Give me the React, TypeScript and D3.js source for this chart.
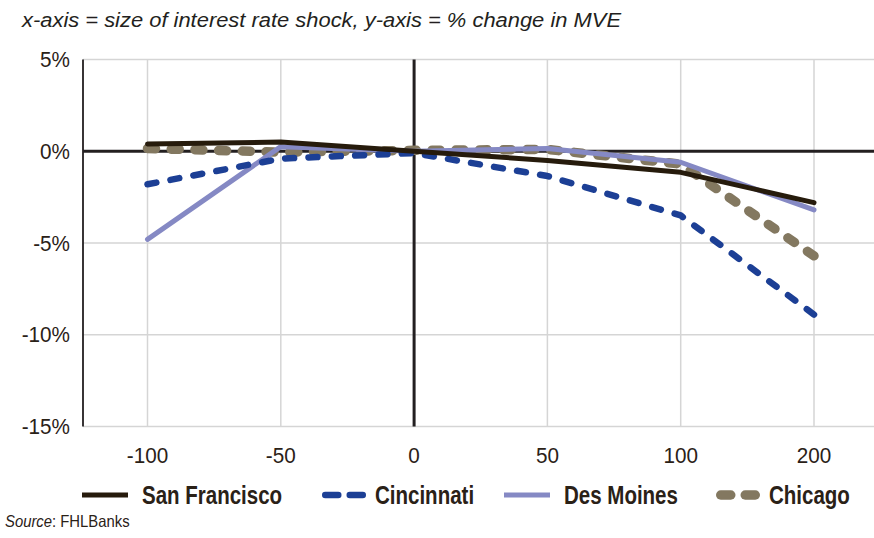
import { useEffect, useRef } from "react"
import * as d3 from "d3"

const categories = ["-100", "-50", "0", "50", "100", "200"]
const sanFrancisco = [0.4, 0.5, 0.0, -0.5, -1.15, -2.8]
const cincinnati = [-1.8, -0.4, -0.1, -1.35, -3.5, -8.9]
const desMoines = [-4.8, 0.25, 0.0, 0.15, -0.6, -3.2]
const chicago = [0.15, -0.05, 0.05, 0.1, -0.7, -5.7]
const yTicks = [5, 0, -5, -10, -15]

const W = 874
const H = 538
const ink = "#2a2117"

type Series = { name: string; values: number[]; color: string; width: number; dash: [number, number] | null }

const sf: Series = { name: "San Francisco", values: sanFrancisco, color: "#261b0c", width: 5, dash: null }
const cin: Series = { name: "Cincinnati", values: cincinnati, color: "#1c3f95", width: 6.5, dash: [9, 14.5] }
const dm: Series = { name: "Des Moines", values: desMoines, color: "#8589c4", width: 5, dash: null }
const chi: Series = { name: "Chicago", values: chicago, color: "#837860", width: 9.5, dash: [8, 16] }

// drawing order (bottom to top) and legend order
const drawOrder = [chi, dm, cin, sf]
const legendOrder = [sf, cin, dm, chi]
const legendX = [82, 322, 504, 716]

function squeeze(sel: d3.Selection<SVGTextElement, any, any, any>, f: number) {
  sel.each(function () {
    const w = this.getComputedTextLength()
    d3.select(this).attr("textLength", w * f).attr("lengthAdjust", "spacingAndGlyphs")
  })
}

export default function App() {
  const ref = useRef<SVGSVGElement>(null)

  useEffect(() => {
    document.body.style.margin = "0"
    const svg = d3.select(ref.current)
    svg.selectAll("*").remove()

    const left = 83
    const right = W
    const x = d3.scalePoint<string>().domain(categories).range([147.5, 814])
    const y = d3.scaleLinear().domain([-15, 5]).range([426.5, 59.5])

    // title
    const title = svg
      .append("text")
      .attr("x", 22)
      .attr("y", 27)
      .attr("font-family", "Liberation Sans, Arial, sans-serif")
      .attr("font-style", "italic")
      .attr("font-size", 20)
      .attr("fill", "#231f20")
      .text("x-axis = size of interest rate shock, y-axis = % change in MVE")
    squeeze(title, 599 / (title.node() as SVGTextElement).getComputedTextLength())

    // horizontal gridlines
    svg
      .append("g")
      .selectAll("line")
      .data(yTicks.filter((d) => d !== 0))
      .enter()
      .append("line")
      .attr("x1", left)
      .attr("x2", right)
      .attr("y1", (d) => y(d))
      .attr("y2", (d) => y(d))
      .attr("stroke", "#d5d5d5")
      .attr("stroke-width", 1.5)

    // vertical gridlines
    svg
      .append("g")
      .selectAll("line")
      .data(categories.filter((c) => c !== "0"))
      .enter()
      .append("line")
      .attr("x1", (d) => x(d)!)
      .attr("x2", (d) => x(d)!)
      .attr("y1", y(5))
      .attr("y2", y(-15))
      .attr("stroke", "#d5d5d5")
      .attr("stroke-width", 1.5)

    // axes
    svg
      .append("line")
      .attr("x1", left)
      .attr("x2", left)
      .attr("y1", y(5))
      .attr("y2", y(-15))
      .attr("stroke", "#231f20")
      .attr("stroke-width", 1.8)
    svg
      .append("line")
      .attr("x1", left)
      .attr("x2", right)
      .attr("y1", y(0))
      .attr("y2", y(0))
      .attr("stroke", "#231f20")
      .attr("stroke-width", 3)
    svg
      .append("line")
      .attr("x1", x("0")!)
      .attr("x2", x("0")!)
      .attr("y1", y(5))
      .attr("y2", y(-15))
      .attr("stroke", "#231f20")
      .attr("stroke-width", 3)

    // y tick labels
    const yl = svg
      .append("g")
      .selectAll("text")
      .data(yTicks)
      .enter()
      .append("text")
      .attr("x", 70)
      .attr("y", (d) => y(d) + 7.5)
      .attr("text-anchor", "end")
      .attr("font-family", "Liberation Sans, Arial, sans-serif")
      .attr("font-size", 22)
      .attr("fill", ink)
      .text((d) => `${d}%`)
    squeeze(yl as any, 0.94)

    // x tick labels
    const xl = svg
      .append("g")
      .selectAll("text")
      .data(categories)
      .enter()
      .append("text")
      .attr("x", (d) => x(d)!)
      .attr("y", 463)
      .attr("text-anchor", "middle")
      .attr("font-family", "Liberation Sans, Arial, sans-serif")
      .attr("font-size", 22)
      .attr("fill", ink)
      .text((d) => d)
    squeeze(xl as any, 0.94)

    // series
    const line = d3
      .line<number>()
      .x((_, i) => x(categories[i])!)
      .y((d) => y(d))

    drawOrder.forEach((s) => {
      const p = svg
        .append("path")
        .attr("d", line(s.values))
        .attr("fill", "none")
        .attr("stroke", s.color)
        .attr("stroke-width", s.width)
        .attr("stroke-linecap", "round")
        .attr("stroke-linejoin", "round")
      if (s.dash) {
        // stretch the gap a little so the pattern starts and ends on a dash
        const L = (p.node() as SVGPathElement).getTotalLength()
        const [d, g] = s.dash
        const n = Math.max(1, Math.round((L - d) / (d + g)))
        const gap = (L - d) / n - d
        p.attr("stroke-dasharray", `${d},${gap}`)
      }
    })

    // legend
    const lg = svg.append("g")
    legendOrder.forEach((s, i) => {
      const x0 = legendX[i]
      const mw = s.dash ? 44 : 46
      if (s.dash) {
        const r = s.width / 2
        const seg = (mw - 2 * s.width - 5) / 2
        lg.append("g")
          .selectAll("line")
          .data([0, 1])
          .enter()
          .append("line")
          .attr("x1", (k) => x0 + r + k * (seg + s.width + 5))
          .attr("x2", (k) => x0 + r + k * (seg + s.width + 5) + seg)
          .attr("y1", 495)
          .attr("y2", 495)
          .attr("stroke", s.color)
          .attr("stroke-width", s.width)
          .attr("stroke-linecap", "round")
      } else {
        lg.append("line")
          .attr("x1", x0)
          .attr("x2", x0 + mw)
          .attr("y1", 495)
          .attr("y2", 495)
          .attr("stroke", s.color)
          .attr("stroke-width", s.width)
      }
      const t = lg
        .append("text")
        .attr("x", x0 + mw + (s.dash ? 9 : 14))
        .attr("y", 504)
        .attr("font-family", "Liberation Sans, Arial, sans-serif")
        .attr("font-weight", "bold")
        .attr("font-size", 25)
        .attr("fill", ink)
        .text(s.name)
      squeeze(t as any, 0.82)
    })

    // source
    const src = svg
      .append("text")
      .attr("x", 5)
      .attr("y", 527)
      .attr("font-family", "Liberation Sans, Arial, sans-serif")
      .attr("font-size", 16.5)
      .attr("fill", ink)
    src.append("tspan").attr("font-style", "italic").text("Source")
    src.append("tspan").text(": FHLBanks")
    squeeze(src as any, 0.9)
  }, [])

  return <svg ref={ref} width={W} height={H} style={{ display: "block", background: "#fff" }} />
}
